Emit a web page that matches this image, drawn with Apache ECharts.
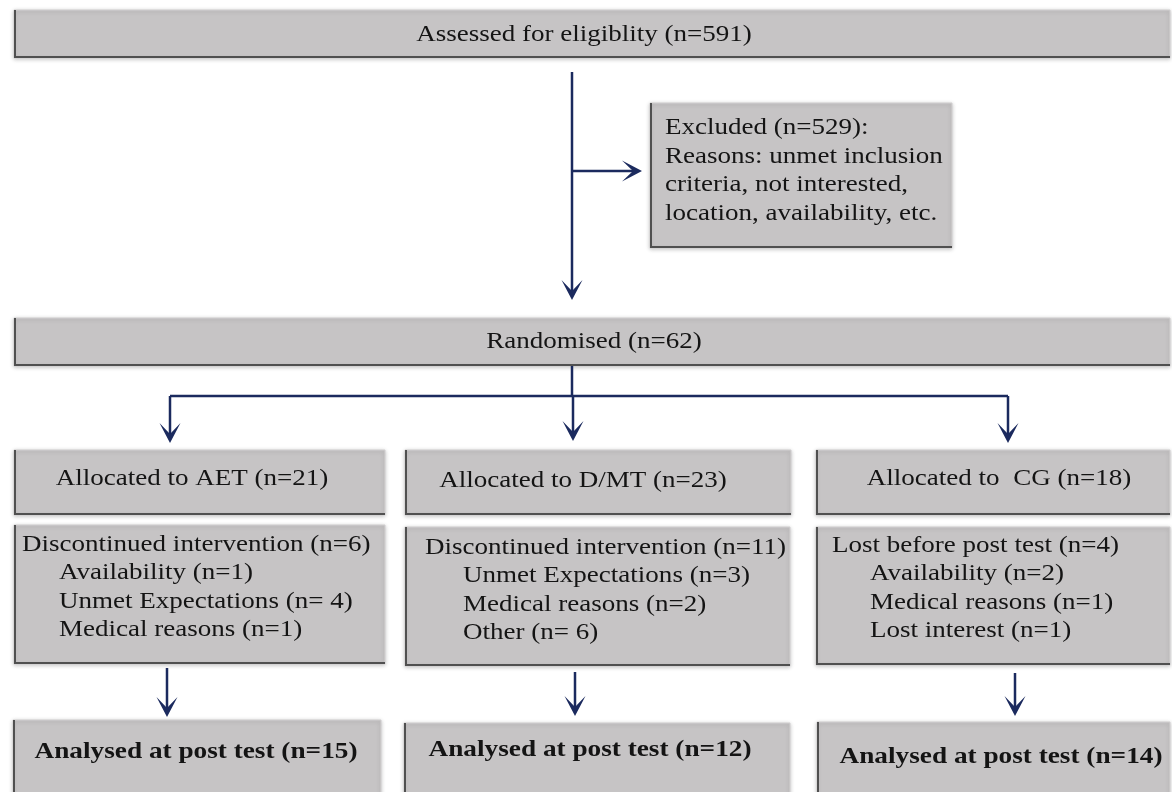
<!DOCTYPE html>
<html>
<head>
<meta charset="utf-8">
<script src="https://cdn.jsdelivr.net/npm/echarts@6/dist/echarts.min.js"></script>
<style>
html,body{margin:0;padding:0;background:#ffffff;}
#c{width:1172px;height:792px;}
</style>
</head>
<body>
<div id="c"></div>
<script>
// ---- content (data) ----
const assessedText = 'Assessed for eligiblity (n=591)';
const excludedLines = ['Excluded (n=529):', 'Reasons: unmet inclusion', 'criteria, not interested,', 'location, availability, etc.'];
const randomisedText = 'Randomised (n=62)';
const groups = ['AET', 'D/MT', 'CG'];
const allocatedN = [21, 23, 18];
const lossHeaders = ['Discontinued intervention (n=6)', 'Discontinued intervention (n=11)', 'Lost before post test (n=4)'];
const lossReasons = [
  ['Availability (n=1)', 'Unmet Expectations (n= 4)', 'Medical reasons (n=1)'],
  ['Unmet Expectations (n=3)', 'Medical reasons (n=2)', 'Other (n= 6)'],
  ['Availability (n=2)', 'Medical reasons (n=1)', 'Lost interest (n=1)']
];
const analysedN = [15, 12, 14];

// ---- layout (positions in diagram units) ----
const boxLayout = [
  [14, 10, 1170, 58],
  [650, 103, 952, 248],
  [14, 318, 1170, 366],
  [14, 450, 385, 515], [405, 450, 791, 515], [816, 450, 1170, 515],
  [14, 525, 385, 664], [405, 527, 790, 666], [816, 527, 1170, 665],
  [13, 720, 381, 800], [404, 723, 790, 800], [817, 722, 1170, 800]
];
const arrowLayout = [
  [572, 72, 572, 300, 1],
  [572, 171, 642, 171, 1],
  [572, 366, 572, 396, 0],
  [170, 396, 1008, 396, 0],
  [170, 396, 170, 443, 1],
  [573, 396, 573, 441, 1],
  [1008, 396, 1008, 443, 1],
  [167, 668, 167, 717, 1],
  [575, 672, 575, 716, 1],
  [1015, 673, 1015, 716, 1]
];
const allocPos = [[192, 478], [583, 480], [999, 478]];
const lossHeaderPos = [[22, 544], [425, 547], [832, 545]];
const lossReasonPos = [[59, 572], [463, 575], [870, 573]];
const analysedPos = [[196, 751], [590, 749], [1001, 756]];

// ---- build text items ----
const textItems = [];
textItems.push({t: assessedText, x: 584, y: 35, a: 'center', b: false});
excludedLines.forEach((s, i) => textItems.push({t: s, x: 665, y: 128 + 28.6 * i, a: 'left', b: false}));
textItems.push({t: randomisedText, x: 594, y: 342, a: 'center', b: false});
groups.forEach((g, i) => {
  const label = (g === 'CG' ? 'Allocated to  ' : 'Allocated to ') + g + ' (n=' + allocatedN[i] + ')';
  textItems.push({t: label, x: allocPos[i][0], y: allocPos[i][1] + 1, a: 'center', b: false});
  textItems.push({t: lossHeaders[i], x: lossHeaderPos[i][0], y: lossHeaderPos[i][1] + 1, a: 'left', b: false});
  lossReasons[i].forEach((r, j) => textItems.push({t: r, x: lossReasonPos[i][0], y: lossReasonPos[i][1] + 1 + 28.4 * j, a: 'left', b: false}));
  textItems.push({t: 'Analysed at post test (n=' + analysedN[i] + ')', x: analysedPos[i][0], y: analysedPos[i][1] + 1, a: 'center', b: true});
});

const LINE = '#1b2a5e';
const FILL = '#c6c4c5';
const EDGE = '#505050';
const FONT = 'Liberation Serif';

const chart = echarts.init(document.getElementById('c'));
chart.setOption({
  animation: false,
  backgroundColor: '#ffffff',
  grid: {left: 0, right: 0, top: 0, bottom: 0},
  xAxis: {type: 'value', min: 0, max: 1172, show: false},
  yAxis: {type: 'value', min: 0, max: 792, inverse: true, show: false},
  series: [
    {
      type: 'custom', coordinateSystem: 'cartesian2d', clip: false, silent: true,
      data: boxLayout,
      renderItem: function (params, api) {
        const p0 = api.coord([api.value(0), api.value(1)]);
        const p1 = api.coord([api.value(2), api.value(3)]);
        const x = p0[0], y = p0[1], w = p1[0] - p0[0], h = p1[1] - p0[1];
        return {
          type: 'group',
          children: [
            {type: 'rect', shape: {x: x, y: y, width: w, height: h},
              style: {fill: FILL, stroke: '#d2d0d1', lineWidth: 1, shadowBlur: 4, shadowColor: 'rgba(0,0,0,0.22)', shadowOffsetX: 0, shadowOffsetY: 1}},
            {type: 'line', shape: {x1: x + 1, y1: y, x2: x + 1, y2: y + h}, style: {stroke: EDGE, lineWidth: 2}},
            {type: 'line', shape: {x1: x, y1: y + h - 1, x2: x + w, y2: y + h - 1}, style: {stroke: EDGE, lineWidth: 2}}
          ]
        };
      }
    },
    {
      type: 'custom', coordinateSystem: 'cartesian2d', clip: false, silent: true,
      data: arrowLayout,
      renderItem: function (params, api) {
        const a = api.coord([api.value(0), api.value(1)]);
        const b = api.coord([api.value(2), api.value(3)]);
        const head = api.value(4) === 1;
        const dx = b[0] - a[0], dy = b[1] - a[1];
        const len = Math.sqrt(dx * dx + dy * dy);
        const ux = dx / len, uy = dy / len;
        const nx = -uy, ny = ux;
        const L = 20, Wd = 10.5, N = 9;
        const end = head ? [b[0] - ux * N, b[1] - uy * N] : b;
        const children = [
          {type: 'line', shape: {x1: a[0], y1: a[1], x2: end[0], y2: end[1]}, style: {stroke: LINE, lineWidth: 2.5}}
        ];
        if (head) {
          children.push({type: 'polygon', shape: {points: [
            [b[0], b[1]],
            [b[0] - ux * L + nx * Wd, b[1] - uy * L + ny * Wd],
            [b[0] - ux * N, b[1] - uy * N],
            [b[0] - ux * L - nx * Wd, b[1] - uy * L - ny * Wd]
          ]}, style: {fill: LINE}});
        }
        return {type: 'group', children: children};
      }
    },
    {
      type: 'custom', coordinateSystem: 'cartesian2d', clip: false, silent: true,
      data: textItems.map(d => [d.x, d.y]),
      renderItem: function (params, api) {
        const d = textItems[params.dataIndex];
        const p = api.coord([api.value(0), api.value(1)]);
        return {
          type: 'text', x: p[0], y: p[1], scaleX: d.b ? 1.16 : 1.15,
          style: {text: d.t, fill: '#141414', fontFamily: FONT, fontSize: 23.5, fontWeight: d.b ? 'bold' : 'normal',
            align: d.a, verticalAlign: 'middle'}
        };
      }
    }
  ]
});
</script>
</body>
</html>
